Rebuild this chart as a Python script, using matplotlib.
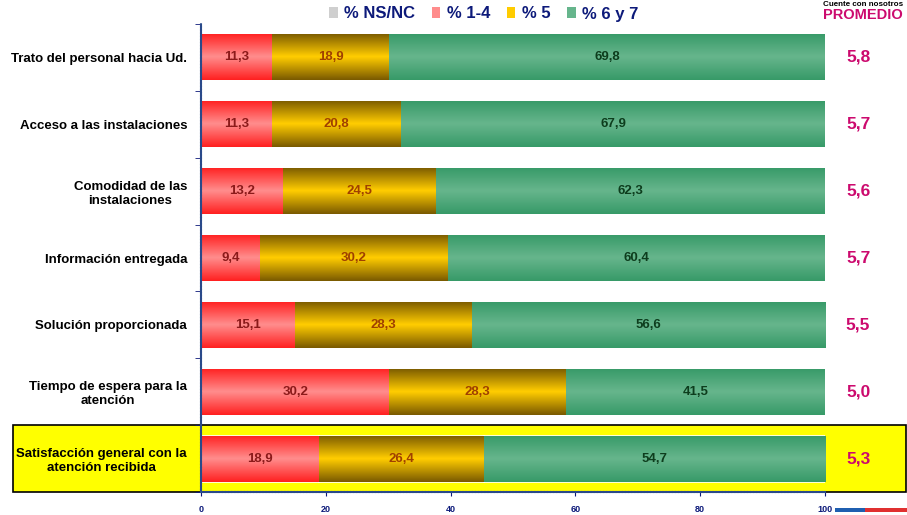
import numpy as np
import matplotlib
matplotlib.use('Agg')
import matplotlib.pyplot as plt
from matplotlib.colors import LinearSegmentedColormap
from matplotlib.patches import Patch, Rectangle

plt.rcParams['font.family'] = ['Liberation Sans', 'DejaVu Sans']

# Data
categorias = ['Trato del personal hacia Ud.', 'Acceso a las instalaciones',
              'Comodidad de las\ninstalaciones', 'Información entregada',
              'Solución proporcionada', 'Tiempo de espera para la\natención',
              'Satisfacción general con la\natención recibida']
ns_nc = [0, 0, 0, 0, 0, 0, 0]
nota_1_4 = [11.3, 11.3, 13.2, 9.4, 15.1, 30.2, 18.9]
nota_5 = [18.9, 20.8, 24.5, 30.2, 28.3, 28.3, 26.4]
nota_6_7 = [69.8, 67.9, 62.3, 60.4, 56.6, 41.5, 54.7]
promedio = ['5,8', '5,7', '5,6', '5,7', '5,5', '5,0', '5,3']
series_nombres = ['% NS/NC', '% 1-4', '% 5', '% 6 y 7']
x_ticks = [0, 20, 40, 60, 80, 100]

# gradient colours: (edge, center), text colour
estilos = [
    (('#6a6a6a', '#cfcfcf'), 'black'),
    (('#ff2020', '#ff8c8c'), '#8b1a1a'),
    (('#7a5a00', '#ffcc00'), '#a04000'),
    (('#379a68', '#66b58c'), '#0d3d1d'),
]
navy = '#0d1a7a'
magenta = '#cc0a6e'

fig = plt.figure(figsize=(9.07, 5.15), dpi=100)

# yellow highlight box behind last row
fig.patches.append(Rectangle((13 / 907, 23 / 515), 893 / 907, 67 / 515,
                             transform=fig.transFigure, facecolor='#ffff00',
                             edgecolor='black', linewidth=1.2, zorder=-1))

ax = fig.add_axes([201 / 907, 23 / 515, 624 / 907, 468 / 515])
ax.set_facecolor('none')

y = np.arange(len(categorias))
altura = 0.69
izq = np.zeros(len(categorias))
grad = np.concatenate([np.linspace(0, 1, 50), np.linspace(1, 0, 50)]).reshape(-1, 1)
for vals, (cols, tcol) in zip([ns_nc, nota_1_4, nota_5, nota_6_7], estilos):
    cmap = LinearSegmentedColormap.from_list('g', [cols[0], cols[1]])
    bars = ax.barh(y, vals, left=izq, height=altura, color=cols[1],
                   edgecolor='white', linewidth=1.2, zorder=2)
    for b, v in zip(bars, vals):
        if v <= 0:
            continue
        x0, y0 = b.get_x(), b.get_y()
        im = ax.imshow(grad, cmap=cmap, aspect='auto', zorder=2.5,
                       interpolation='bilinear',
                       extent=(x0, x0 + b.get_width(), y0 + b.get_height(), y0))
        im.set_clip_path(b)
        ax.text(x0 + b.get_width() / 2, y0 + b.get_height() / 2,
                f'{v:.1f}'.replace('.', ','), ha='center', va='center',
                fontsize=9.5, fontweight='bold', color=tcol, zorder=4)
    izq = izq + np.array(vals)

ax.set_xlim(0, 100)
ax.set_ylim(len(categorias) - 0.5, -0.5)
ax.set_xticks(x_ticks)
ax.set_xticklabels([str(t) for t in x_ticks], fontsize=6.5, fontweight='bold', color=navy)
ax.set_yticks(y)
ax.set_yticklabels(categorias, fontsize=9.5, fontweight='bold',
                   multialignment='center', linespacing=1.25)
ax.set_yticks(np.arange(len(categorias) + 1) - 0.5, minor=True)
ax.tick_params(axis='y', which='major', length=0, pad=10)
ax.tick_params(axis='y', which='minor', length=4, color=navy)
ax.tick_params(axis='x', length=3, color=navy, pad=6)
for s in ['top', 'right']:
    ax.spines[s].set_visible(False)
for s in ['left', 'bottom']:
    ax.spines[s].set_color('#2a4a8a')
    ax.spines[s].set_linewidth(1.5)
    ax.spines[s].set_linestyle((0, (1, 0.5)))

for yi, p in zip(y, promedio):
    ax.text(105.3, yi, p, ha='center', va='center', fontsize=12.5,
            fontweight='bold', color=magenta, clip_on=False)

fig.text(823 / 907, 1 - 1 / 515, 'Cuente con nosotros', fontsize=5.8, fontweight='bold',
         ha='left', va='top')
fig.text(823 / 907, 1 - 15 / 515, 'PROMEDIO', fontsize=10.5, fontweight='bold',
         color=magenta, ha='left', va='center')

handles = [Patch(facecolor=e[0][1], edgecolor='none') for e in estilos]
leg = fig.legend(handles, series_nombres, loc='center', ncol=4,
                 bbox_to_anchor=(484 / 907, 1 - 14 / 515), frameon=False,
                 handlelength=0.5, handleheight=0.6, handletextpad=0.4,
                 columnspacing=1.0, prop={'size': 12, 'weight': 'bold'})
for t in leg.get_texts():
    t.set_color(navy)

# small stripe bottom right
fig.patches.append(Rectangle((835 / 907, 3 / 515), 30 / 907, 4 / 515,
                             transform=fig.transFigure, facecolor='#1f5fb0', edgecolor='none'))
fig.patches.append(Rectangle((865 / 907, 3 / 515), 42 / 907, 4 / 515,
                             transform=fig.transFigure, facecolor='#e03030', edgecolor='none'))

fig.savefig('out.png', dpi=100)
